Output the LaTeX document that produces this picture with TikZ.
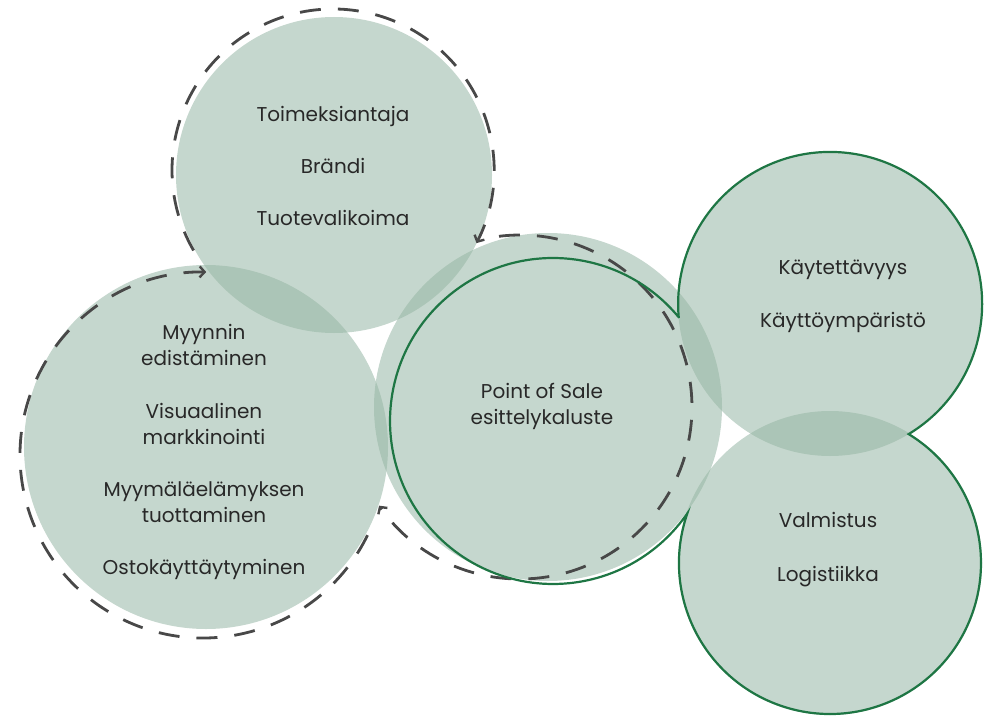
\documentclass[tikz,border=0pt]{standalone}
\usepackage{fontspec}
\setmainfont{Poppins}
\usetikzlibrary{arrows.meta}
\definecolor{fillc}{RGB}{150,182,165}
\definecolor{lineg}{RGB}{30,118,68}
\definecolor{dashc}{RGB}{72,72,72}
\definecolor{txtc}{RGB}{40,40,40}
\tikzset{
  blob/.style={circle, inner sep=0pt, fill=fillc, fill opacity=0.55, draw=none},
  dashring/.style={draw=dashc, line width=2.8pt, dash pattern=on 21pt off 17pt, line cap=butt},
  dasharrow/.style={dashring, -{Straight Barb[length=5pt,width=11pt,line width=2.4pt]}},
  greenring/.style={draw=lineg, line width=2.2pt, line join=miter},
  label/.style={text=txtc, align=center, font=\fontsize{20}{26}\selectfont, inner sep=0pt}
}
\begin{document}
\begin{tikzpicture}[x=1pt,y=1pt]
\useasboundingbox (0,0) rectangle (985,-717);
% filled circles
\node[blob, minimum size=316pt] (ctop) at (334,-175) {};
\node[blob, minimum size=364pt] (cleft) at (206,-447) {};
\node[blob, minimum size=348pt] (ccenter) at (548,-407) {};
\node[blob, minimum size=304pt] (crt) at (830,-304) {};
\node[blob, minimum size=304pt] (crb) at (830,-563) {};
% dashed cycle arcs
\coordinate (topstart) at (193.6,-250.5);
\coordinate (censtart) at (499,-236.3);
\coordinate (leftstart) at (367.5,-535.2);
\draw[dasharrow] (topstart) arc[start angle=210, end angle=-27, radius=161];
\draw[dasharrow] (censtart) arc[start angle=97, end angle=-145, radius=172];
\draw[dasharrow] (leftstart) arc[start angle=-26, end angle=-271, radius=183];
% green outline
\coordinate (cuspA) at (678.6,-317.1);
\draw[greenring] (cuspA) arc[start angle=39.6, end angle=325.55, radius=163]
  arc[start angle=160.75, end angle=418.6, radius=151]
  arc[start angle=-58.9, end angle=184.95, radius=152] -- cycle;
% texts
\node[label] (ttop) at (333,-166) {Toimeksiantaja\\[26pt]Brändi\\[26pt]Tuotevalikoima};
\node[label] (tleft) at (204,-451.5) {Myynnin\\edistäminen\\[27pt]Visuaalinen\\markkinointi\\[26pt]Myymäläelämyksen\\tuottaminen\\[26pt]Ostokäyttäytyminen};
\node[label] (tcenter) at (542,-406.5) {Point of Sale\\esittelykaluste};
\node[label] (trt) at (843,-296.5) {Käytettävyys\\[27pt]Käyttöympäristö};
\node[label] (trb) at (828,-550) {Valmistus\\[28pt]Logistiikka};
\end{tikzpicture}
\end{document}
